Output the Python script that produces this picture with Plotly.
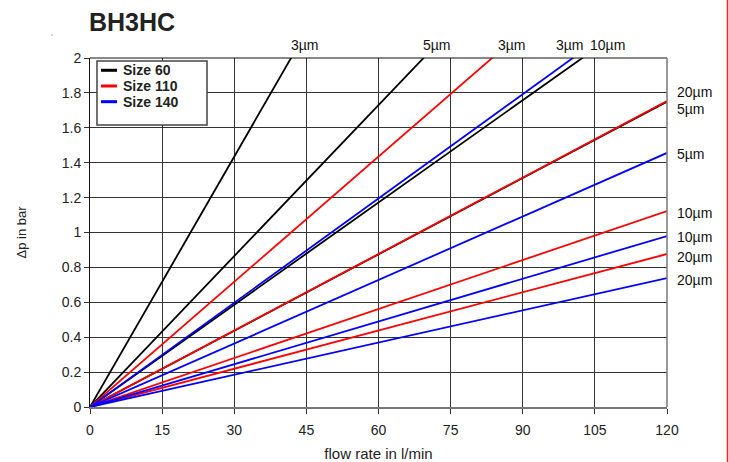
import plotly.graph_objects as go

# ---------------- data ----------------
sizes = ["Size 60", "Size 110", "Size 140"]
size_colors = ["#000000", "#ff0000", "#0000ff"]
grades = ["3µm", "5µm", "10µm", "20µm"]
flow_rate = [0, 120]                      # l/min (lines are straight through origin)
dp_size60 = [5.74, 3.46, 2.344, 1.75]      # Δp in bar at 120 l/min
dp_size110 = [2.87, 1.753, 1.123, 0.877]
dp_size140 = [2.39, 1.456, 0.98, 0.739]
x_ticks = [0, 15, 30, 45, 60, 75, 90, 105, 120]
y_max = 2.0

dp_all = [dp_size60, dp_size110, dp_size140]

# label offsets (pixels) for end-of-line labels
label_shift = {
    (0, 0): (14, 0), (0, 1): (13, 0), (0, 2): (25, 0), (0, 3): (8, 10),
    (1, 0): (20, 0), (1, 1): (8, -8), (1, 2): (8, -2), (1, 3): (8, -3),
    (2, 0): (-3, 0), (2, 1): (8, -1), (2, 2): (8, -1), (2, 3): (8, -2),
}

FONT = "Liberation Sans, Arial, Helvetica, sans-serif"
fig = go.Figure()
annotations = []

for si, (name, color, dps) in enumerate(zip(sizes, size_colors, dp_all)):
    for gi, (grade, dp) in enumerate(zip(grades, dps)):
        fig.add_trace(go.Scatter(
            x=flow_rate, y=[0, dp], mode="lines",
            line=dict(color=color, width=1.8),
            name=f"{name} {grade}", legendgroup=name, showlegend=False,
            hoverinfo="skip"))
        dx, dy = label_shift[(si, gi)]
        if dp > y_max:
            x_end = y_max * flow_rate[1] / dp
            annotations.append(dict(x=x_end, y=y_max, xref="x", yref="y", text=grade,
                                    showarrow=False, xanchor="center", yanchor="middle",
                                    xshift=dx, yshift=13,
                                    font=dict(size=14, color="#111", family=FONT)))
        else:
            annotations.append(dict(x=flow_rate[1], y=dp, xref="x", yref="y", text=grade,
                                    showarrow=False, xanchor="left", yanchor="middle",
                                    xshift=dx, yshift=dy,
                                    font=dict(size=14, color="#111", family=FONT)))

# manual legend (box + short line swatches + bold text)
shapes = [
    dict(type="rect", xref="paper", yref="paper", x0=0.0121, x1=0.2028, y0=0.808, y1=0.9914,
         line=dict(color="#444", width=1.5), fillcolor="white", layer="above"),
]
legend_y = [0.9648, 0.9198, 0.8748]
for name, color, ly in zip(sizes, size_colors, legend_y):
    shapes.append(dict(type="line", xref="paper", yref="paper", x0=0.0191, x1=0.0468,
                       y0=ly, y1=ly, line=dict(color=color, width=3), layer="above"))
    annotations.append(dict(x=0.0537, y=ly, xref="paper", yref="paper", text=f"<b>{name}</b>",
                            showarrow=False, xanchor="left", yanchor="middle",
                            font=dict(size=14, color="#222", family=FONT)))

# title
annotations.append(dict(x=-0.005, y=1 + 36 / 349, xref="paper", yref="paper",
                        text="<b>BH3HC</b>", showarrow=False, xanchor="left", yanchor="middle",
                        font=dict(size=25, color="#222", family=FONT)))

# plot border (top and right)
shapes.append(dict(type="line", xref="paper", yref="paper", x0=0, x1=1, y0=1, y1=1,
                   line=dict(color="#111", width=1)))
shapes.append(dict(type="line", xref="paper", yref="paper", x0=1, x1=1, y0=0, y1=1,
                   line=dict(color="#777", width=1.5)))
# page margin line on the far right
shapes.append(dict(type="line", xref="paper", yref="paper", x0=1.1049, x1=1.1049,
                   y0=-0.2, y1=1.2, line=dict(color="#ff2020", width=1.5)))
# small stray dot near the title
shapes.append(dict(type="circle", xref="paper", yref="paper", x0=-0.0672, x1=-0.0646,
                   y0=1.0638, y1=1.0681, line=dict(width=0), fillcolor="#888"))

fig.update_layout(
    width=729, height=462,
    margin=dict(l=90, r=62, t=58, b=55, autoexpand=False),
    paper_bgcolor="white", plot_bgcolor="white",
    showlegend=False,
    xaxis=dict(range=[0, 120], tickvals=x_ticks, ticks="outside", ticklen=5,
               tickcolor="#333", showgrid=True, gridcolor="#333", gridwidth=1,
               showline=True, linecolor="#777", linewidth=2, zeroline=False,
               automargin=False, ticklabelstandoff=4,
               tickfont=dict(size=14, color="#222", family=FONT),
               title=dict(text="flow rate in l/min", standoff=17,
                          font=dict(size=15, color="#222", family=FONT))),
    yaxis=dict(range=[0, y_max], dtick=0.2, ticks="outside", ticklen=5,
               tickcolor="#333", showgrid=True, gridcolor="#333", gridwidth=1,
               showline=True, linecolor="#111", linewidth=1, zeroline=False,
               automargin=False,
               tickfont=dict(size=14, color="#222", family=FONT),
               title=dict(text="Δp in bar", standoff=32,
                          font=dict(size=13, color="#222", family=FONT))),
    shapes=shapes,
    annotations=annotations,
)

# remove the default page margin so the 729x462 figure fills the window exactly
fig.write_html("out.html", config={"displayModeBar": False},
               post_script="document.body.style.margin='0';")
